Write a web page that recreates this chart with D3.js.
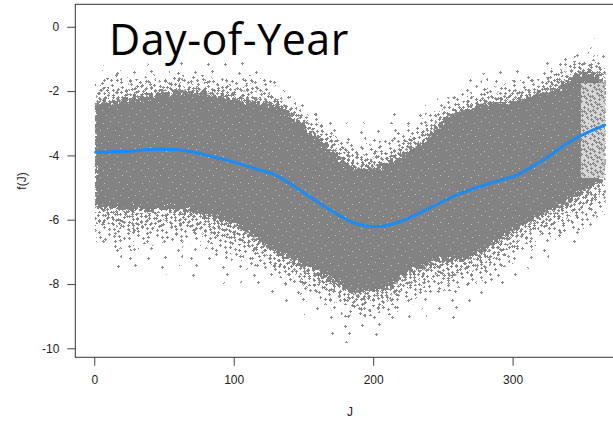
<!DOCTYPE html>
<html>
<head>
<meta charset="utf-8">
<script src="https://cdn.jsdelivr.net/npm/d3@7"></script>
<style>
  html, body { margin: 0; padding: 0; background: #fff; }
  svg { display: block; }
  text { font-family: "Liberation Sans", Arial, sans-serif; }
</style>
</head>
<body>
<svg id="chart" width="613" height="422"></svg>
<script>
// Day of year on the x axis
const dayKnots = [0, 10, 30, 55, 80, 105, 115, 130, 150, 170, 187, 200, 212, 225, 237, 250, 265, 280, 300, 315, 335, 350, 366];

// Extent of the partial-effect cloud f(J) at each day, from the sparse outliers inwards to the dense core
const outerHi  = [-1.20, -1.20, -1.25, -1.10, -1.10, -1.20, -1.25, -1.65, -2.35, -2.80, -3.20, -3.10, -2.90, -2.70, -2.55, -2.05, -1.65, -1.45, -1.35, -1.25, -0.85, -0.45, -0.45];
const fringeHi = [-1.65, -1.60, -1.60, -1.50, -1.50, -1.60, -1.60, -1.95, -2.65, -3.10, -3.60, -3.55, -3.40, -3.15, -2.90, -2.45, -2.10, -1.85, -1.75, -1.60, -1.25, -0.95, -1.00];
const innerHi  = [-2.00, -1.95, -1.90, -1.75, -1.80, -1.95, -1.95, -2.15, -2.85, -3.45, -3.95, -3.95, -3.80, -3.50, -3.20, -2.65, -2.35, -2.10, -2.00, -1.85, -1.50, -1.15, -1.30];
const coreHi   = [-2.40, -2.30, -2.20, -2.00, -2.05, -2.25, -2.30, -2.40, -3.05, -3.80, -4.35, -4.35, -4.15, -3.85, -3.50, -2.90, -2.60, -2.40, -2.30, -2.10, -1.80, -1.40, -1.60];
const coreLo   = [-5.60, -5.65, -5.70, -5.70, -5.90, -6.30, -6.60, -7.00, -7.45, -7.90, -8.30, -8.20, -8.10, -7.65, -7.45, -7.25, -7.25, -6.95, -6.40, -6.00, -5.60, -5.20, -4.70];
const innerLo  = [-6.10, -6.20, -6.30, -6.20, -6.45, -6.80, -7.05, -7.40, -7.85, -8.30, -8.65, -8.65, -8.50, -8.10, -7.90, -7.80, -7.70, -7.45, -6.85, -6.45, -6.00, -5.70, -5.15];
const fringeLo = [-6.60, -6.70, -6.85, -6.65, -6.95, -7.25, -7.45, -7.80, -8.20, -8.70, -9.00, -9.10, -8.90, -8.60, -8.30, -8.30, -8.10, -7.90, -7.25, -6.85, -6.40, -6.20, -5.60];
const outerLo  = [-7.10, -7.30, -7.55, -7.50, -7.65, -7.95, -8.10, -8.50, -8.90, -9.35, -9.80, -9.55, -9.35, -9.10, -8.75, -9.10, -8.70, -8.40, -7.90, -7.45, -6.95, -6.65, -5.85];

// Year-end block of observations drawn lighter: [day from, day to, f top, f bottom]
const yearEndBlock = [349, 366, -1.75, -4.70];

// Fitted smooth f(J)
const smoothJ = [1, 20, 45, 62, 85, 105, 118, 130, 144, 158, 173, 187, 201, 216, 230, 244, 264, 286, 303, 322, 343, 366];
const smoothF = [-3.90, -3.88, -3.81, -3.83, -4.04, -4.27, -4.45, -4.61, -4.98, -5.39, -5.80, -6.11, -6.22, -6.11, -5.86, -5.56, -5.16, -4.84, -4.61, -4.14, -3.52, -3.06];

// Axis ticks
const xTicks = [0, 100, 200, 300];
const yTicks = [0, -2, -4, -6, -8, -10];

const W = 613, H = 422;
const svg = d3.select("#chart");

const x = d3.scaleLinear().domain([-13.6, 380.6]).range([75.3, 625]);
const y = d3.scaleLinear().domain([-10.28, 0.70]).range([357.3, 4.3]);

const defs = svg.append("defs");

// Quasi-uniform speckle positions inside a pattern tile (R2 low-discrepancy sequence)
function tilePoints(n, w, h, seed) {
  const a1 = 0.7548776662466927, a2 = 0.5698402909980532;
  const pts = [];
  for (let i = 0; i < n; i++) {
    const u = (seed + a1 * i) % 1, v = (seed * 1.37 + 0.21 + a2 * i) % 1;
    pts.push([Math.floor(u * w), Math.floor(v * h)]);
  }
  return pts;
}
function crossPath(pts) {
  return pts.map(([px, py]) => `M${px},${py + 0.5}h3M${px + 1.5},${py - 1}v3`).join("");
}
function crossPattern(id, n, w, h, seed, color) {
  const p = defs.append("pattern").attr("id", id)
    .attr("patternUnits", "userSpaceOnUse").attr("width", w).attr("height", h);
  p.append("path").attr("d", crossPath(tilePoints(n, w, h, seed)))
    .attr("stroke", color).attr("stroke-width", 1).attr("fill", "none");
}
crossPattern("sparse", 22, 61, 59, 0.13, "#8a8a8a");
crossPattern("fringe", 110, 67, 61, 0.41, "#8a8a8a");
crossPattern("inner", 200, 59, 71, 0.29, "#868686");
crossPattern("column", 110, 31, 53, 0.77, "#8a8a8a");

// Dense core: solid grey with a few light specks
const core = defs.append("pattern").attr("id", "core")
  .attr("patternUnits", "userSpaceOnUse").attr("width", 53).attr("height", 47);
core.append("rect").attr("width", 53).attr("height", 47).attr("fill", "#828282");
core.selectAll("rect.sp").data(tilePoints(45, 53, 47, 0.63)).join("rect")
  .attr("class", "sp").attr("x", d => d[0]).attr("y", d => d[1])
  .attr("width", 1).attr("height", 1).attr("fill", "#c4c4c4");

// Ragged outlines for the band masks
function roughFilter(id, freq, scale, seed) {
  const f = defs.append("filter").attr("id", id)
    .attr("x", "-5%").attr("y", "-15%").attr("width", "110%").attr("height", "130%");
  f.append("feTurbulence").attr("type", "fractalNoise").attr("baseFrequency", freq)
    .attr("numOctaves", 3).attr("seed", seed).attr("result", "noise");
  f.append("feDisplacementMap").attr("in", "SourceGraphic").attr("in2", "noise")
    .attr("scale", scale).attr("xChannelSelector", "R").attr("yChannelSelector", "G");
}
roughFilter("ragOuter", 0.07, 34, 4);
roughFilter("ragFringe", 0.09, 28, 9);
roughFilter("ragInner", 0.11, 24, 2);
roughFilter("ragCore", 0.30, 18, 7);

// Band outline in pixel space
const band = (hi, lo) => d3.area()
  .x((d, i) => x(dayKnots[i]))
  .y0((d, i) => y(lo[i]))
  .y1((d, i) => y(hi[i]))
  .curve(d3.curveMonotoneX)(dayKnots);

function bandMask(id, hi, lo, filterId) {
  const m = defs.append("mask").attr("id", id).attr("maskUnits", "userSpaceOnUse")
    .attr("x", 0).attr("y", 0).attr("width", W).attr("height", H);
  m.append("path").attr("d", band(hi, lo)).attr("fill", "#fff").attr("filter", `url(#${filterId})`);
}
bandMask("mOuter", outerHi, outerLo, "ragOuter");
bandMask("mFringe", fringeHi, fringeLo, "ragFringe");
bandMask("mInner", innerHi, innerLo, "ragInner");
bandMask("mCore", coreHi, coreLo, "ragCore");

// Observations only exist for days 1..366
defs.append("clipPath").attr("id", "dayRange").append("rect")
  .attr("x", x(dayKnots[0] + 0.5)).attr("width", x(dayKnots[dayKnots.length - 1]) - x(dayKnots[0] + 0.5) + 1)
  .attr("y", y.range()[1] + 1).attr("height", y.range()[0] - y.range()[1] - 2);

// Plot box
svg.append("rect")
  .attr("x", x.range()[0]).attr("y", y.range()[1])
  .attr("width", x.range()[1] - x.range()[0])
  .attr("height", y.range()[0] - y.range()[1])
  .attr("fill", "none").attr("stroke", "#333").attr("stroke-width", 1);

// Point cloud, drawn in layers of increasing density
const cloud = svg.append("g").attr("clip-path", "url(#dayRange)");
const plotRect = g => g
  .attr("x", x.range()[0] + 1).attr("y", y.range()[1] + 1)
  .attr("width", x.range()[1] - x.range()[0] - 2)
  .attr("height", y.range()[0] - y.range()[1] - 2);
[["sparse", "mOuter"], ["fringe", "mFringe"], ["inner", "mInner"], ["core", "mCore"]]
  .forEach(([pat, mask]) => {
    cloud.append("rect").call(plotRect)
      .attr("fill", `url(#${pat})`).attr("mask", `url(#${mask})`);
  });
cloud.append("rect")
  .attr("x", x(yearEndBlock[0])).attr("width", x(yearEndBlock[1]) - x(yearEndBlock[0]))
  .attr("y", y(yearEndBlock[2])).attr("height", y(yearEndBlock[3]) - y(yearEndBlock[2]))
  .attr("fill", "#d6d6d6");
cloud.append("rect")
  .attr("x", x(yearEndBlock[0])).attr("width", x(yearEndBlock[1]) - x(yearEndBlock[0]))
  .attr("y", y(yearEndBlock[2])).attr("height", y(yearEndBlock[3]) - y(yearEndBlock[2]))
  .attr("fill", "url(#column)");

// Smooth fit
svg.append("path")
  .datum(smoothJ.map((j, i) => [j, smoothF[i]]))
  .attr("d", d3.line().x(d => x(d[0])).y(d => y(d[1])).curve(d3.curveCatmullRom))
  .attr("fill", "none").attr("stroke", "#1a8cf5").attr("stroke-width", 3)
  .attr("stroke-linecap", "round");

// Axes
const xAxis = svg.append("g").attr("transform", `translate(0,${y.range()[0]})`)
  .call(d3.axisBottom(x).tickValues(xTicks).tickSize(8.5).tickPadding(10).tickFormat(d3.format("d")));
const yAxis = svg.append("g").attr("transform", `translate(${x.range()[0]},0)`)
  .call(d3.axisLeft(y).tickValues(yTicks).tickSize(8).tickPadding(8).tickFormat(d => d < 0 ? "-" + Math.abs(d) : d));
[xAxis, yAxis].forEach(g => {
  g.select(".domain").remove();
  g.selectAll(".tick line").attr("stroke", "#444");
  g.selectAll(".tick text").attr("fill", "#222").style("font-size", "12px")
    .style("font-family", "'Liberation Sans', Arial, sans-serif");
});

// Axis titles
svg.append("text").attr("x", 350).attr("y", 416).attr("text-anchor", "middle")
  .attr("fill", "#222").style("font-size", "12px").text("J");
svg.append("text").attr("transform", "translate(26,181) rotate(-90)").attr("text-anchor", "middle")
  .attr("fill", "#222").style("font-size", "12px").text("f(J)");

// Panel title
svg.append("text").attr("x", 109).attr("y", 55)
  .style("font-family", "'Open Sans', 'Noto Sans', sans-serif").style("font-size", "43px")
  .style("letter-spacing", "0.5px")
  .attr("fill", "#000").text("Day-of-Year");
</script>
</body>
</html>
